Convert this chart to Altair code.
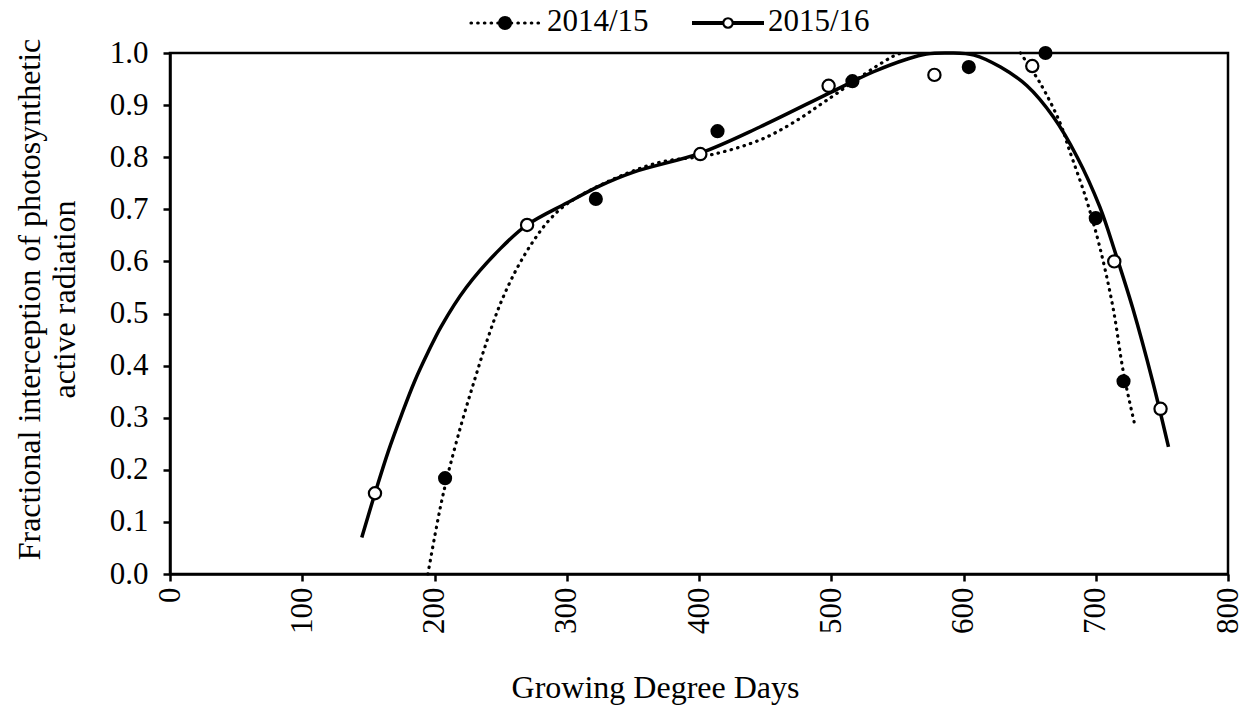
import altair as alt
import pandas as pd

SERIES = ["2014/15", "2015/16"]

# Observed fractional interception of PAR against growing degree days
gdd_1415 = [208, 322, 414, 516, 604, 662, 700, 721]
fipar_1415 = [0.184, 0.72, 0.85, 0.946, 0.973, 1.0, 0.683, 0.37]
gdd_1516 = [155, 270, 401, 498, 578, 652, 714, 749]
fipar_1516 = [0.155, 0.67, 0.806, 0.937, 0.958, 0.975, 0.60, 0.317]

# Fitted trend, 2015/16 (solid)
fit_gdd_1516 = [145, 155, 165, 175, 185, 195, 205, 224, 250, 270, 300, 325, 350,
                401, 446, 500, 532, 557, 572, 590, 608, 628, 648, 668, 686, 703,
                715, 728, 743, 755]
fit_val_1516 = [0.07, 0.155, 0.235, 0.305, 0.37, 0.425, 0.475, 0.55, 0.625, 0.67,
                0.712, 0.745, 0.771, 0.808, 0.858, 0.925, 0.964, 0.988, 0.998, 1.0,
                0.996, 0.973, 0.937, 0.877, 0.80, 0.705, 0.615, 0.51, 0.37, 0.244]

# Fitted trend, 2014/15 (dotted); the part above 1.0 lies outside the plot
fit_gdd_1415_a = [195, 200, 205, 210, 220, 230, 240, 250, 262, 275, 287, 300, 330,
                  370, 408, 446, 471, 497, 532, 547, 553]
fit_val_1415_a = [0.0, 0.07, 0.135, 0.19, 0.285, 0.37, 0.45, 0.52, 0.585, 0.64,
                  0.68, 0.71, 0.752, 0.79, 0.804, 0.833, 0.866, 0.91, 0.971,
                  0.994, 1.0]
fit_gdd_1415_b = [643, 658, 673, 680, 693, 703, 713, 721, 729]
fit_val_1415_b = [1.0, 0.942, 0.866, 0.814, 0.718, 0.628, 0.512, 0.386, 0.292]

X_TICKS = list(range(0, 801, 100))
Y_TICKS = [i / 10 for i in range(11)]

FONT = "Liberation Serif"
FS = 31
TITLE_FS = 32

obs_a = pd.DataFrame({"gdd": gdd_1415, "fipar": fipar_1415})
obs_b = pd.DataFrame({"gdd": gdd_1516, "fipar": fipar_1516})
fit_b = pd.DataFrame({"gdd": fit_gdd_1516, "fipar": fit_val_1516})
fit_a = pd.concat([
    pd.DataFrame({"gdd": fit_gdd_1415_a, "fipar": fit_val_1415_a, "seg": "a"}),
    pd.DataFrame({"gdd": fit_gdd_1415_b, "fipar": fit_val_1415_b, "seg": "b"}),
])

x_enc = alt.X(
    "gdd:Q",
    scale=alt.Scale(domain=[0, 800], nice=False, zero=False),
    axis=alt.Axis(
        values=X_TICKS, format="d", labelAngle=270, labelAlign="right",
        labelBaseline="middle", labelPadding=6,
        title="Growing Degree Days", titleX=485, titleY=123,
        titleAlign="center", titleBaseline="alphabetic", titleAngle=0,
    ),
)
y_enc = alt.Y(
    "fipar:Q",
    scale=alt.Scale(domain=[0, 1], nice=False),
    axis=alt.Axis(
        values=Y_TICKS, format=".1f", labelPadding=15,
        title=["Fractional interception of photosynthetic", "active radiation"],
        titleX=-141, titleY=246, titleAngle=270, titleAlign="center",
        titleBaseline="middle", titleLineHeight=35,
    ),
)

line_1516 = alt.Chart(fit_b).mark_line(
    color="black", strokeWidth=3.5, interpolate="catmull-rom"
).encode(x=x_enc, y=y_enc)

line_1415 = alt.Chart(fit_a).mark_line(
    color="black", strokeWidth=3.2, strokeDash=[0.5, 6.2], strokeCap="round",
    interpolate="catmull-rom"
).encode(x=x_enc, y=y_enc, detail="seg:N")

pts_1415 = alt.Chart(obs_a).mark_point(
    shape="circle", filled=True, color="black", size=200, opacity=1
).encode(x=x_enc, y=y_enc)

pts_1516 = alt.Chart(obs_b).mark_point(
    shape="circle", filled=False, fill="white", stroke="black",
    strokeWidth=2.2, size=150, opacity=1, fillOpacity=1
).encode(x=x_enc, y=y_enc)

# Legend drawn above the plot frame
one = pd.DataFrame({"k": [0]})
leg_dots = alt.Chart(one).mark_rule(
    color="black", strokeWidth=3.2, strokeDash=[0.5, 6.2], strokeCap="round"
).encode(x=alt.value(301), x2=alt.value(369), y=alt.value(-30))
leg_dot = alt.Chart(one).mark_point(
    shape="circle", filled=True, color="black", size=200, opacity=1
).encode(x=alt.value(335), y=alt.value(-30))
leg_text_a = alt.Chart(one).mark_text(
    align="left", baseline="alphabetic", font=FONT, fontSize=FS, color="black"
).encode(x=alt.value(377), y=alt.value(-22), text=alt.value(SERIES[0]))

leg_line = alt.Chart(one).mark_rule(
    color="black", strokeWidth=4
).encode(x=alt.value(522), x2=alt.value(594), y=alt.value(-30))
leg_circle = alt.Chart(one).mark_point(
    shape="circle", filled=False, fill="white", stroke="black",
    strokeWidth=2.2, size=90, opacity=1, fillOpacity=1
).encode(x=alt.value(558), y=alt.value(-30))
leg_text_b = alt.Chart(one).mark_text(
    align="left", baseline="alphabetic", font=FONT, fontSize=FS, color="black"
).encode(x=alt.value(598), y=alt.value(-22), text=alt.value(SERIES[1]))

chart = alt.layer(
    line_1415, line_1516, pts_1415, pts_1516,
    leg_dots, leg_dot, leg_text_a, leg_line, leg_circle, leg_text_b,
).properties(
    width=1058,
    height=521,
    autosize=alt.AutoSizeParams(type="none"),
    padding={"left": 170, "top": 53, "right": 19, "bottom": 132},
    background="white",
).configure_view(
    stroke="black", strokeWidth=2.5
).configure_axis(
    grid=False,
    domainColor="black", domainWidth=2.5,
    tickColor="black", tickWidth=2.5, tickSize=7,
    labelFont=FONT, labelFontSize=FS, labelColor="black",
    titleFont=FONT, titleFontSize=TITLE_FS, titleColor="black",
    titleFontWeight="normal",
)

chart.save("out.html", embed_options={"renderer": "svg", "actions": False})
